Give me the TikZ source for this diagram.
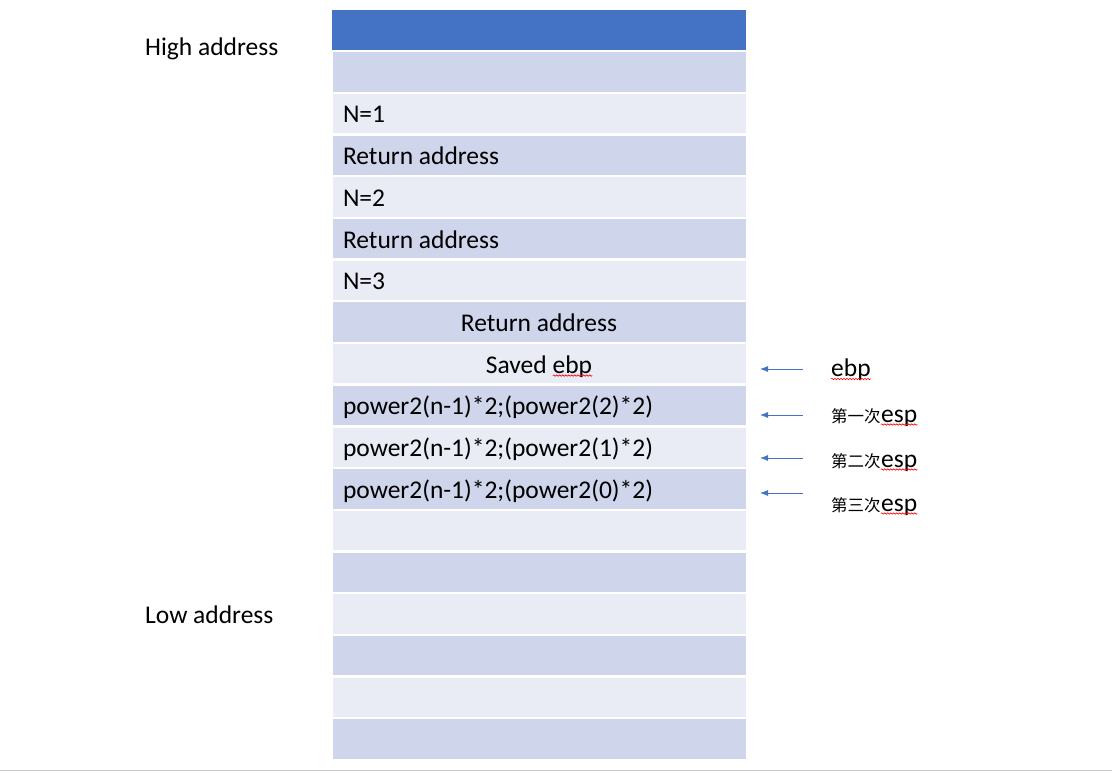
\documentclass[tikz,border=0pt]{standalone}
\usepackage{fontspec}
\setmainfont{Carlito}
\newfontfamily\cjk{Noto Sans CJK SC}
\usetikzlibrary{arrows.meta,decorations.pathmorphing}
\definecolor{hdblue}{HTML}{4472C4}
\definecolor{cell1}{HTML}{CFD5EA}
\definecolor{cell0}{HTML}{E9EBF5}
\tikzset{
  cellbox/.style={minimum width=413pt, minimum height=39.3pt, inner sep=0pt, draw=none},
  txt/.style={inner sep=0pt},
  ptr/.style={hdblue, line width=0.8pt, -{Latex[length=8pt,width=6pt]}},
  spell/.style={red, line width=0.6pt, decorate, decoration={snake, amplitude=0.7pt, segment length=3pt}},
}
\newlength\ebpw
\AtBeginDocument{\settowidth{\ebpw}{\fontsize{25.5}{30}\selectfont ebp}}

\begin{document}
\begin{tikzpicture}[x=1pt,y=-1pt,every node/.style={font=\fontsize{25.5}{30}\selectfont}]
  \useasboundingbox (0,0) rectangle (1112,772);
  % stack cells
  \foreach \i [evaluate=\i as \sh using {int(mod(\i,2))}] in {0,...,17}
    \node[cellbox, fill=cell\sh] (r\i) at (539, 30.2+41.7*\i) {};
  \fill[hdblue] (r0.south west) rectangle (r0.north east);
  % cell texts
  \foreach \i/\lbl in {2/N=1, 3/Return address, 4/N=2, 5/Return address, 6/N=3,
      9/power2(n-1)*2;(power2(2)*2), 10/power2(n-1)*2;(power2(1)*2), 11/power2(n-1)*2;(power2(0)*2)}
    \node[txt, anchor=base west] (t\i) at ([xshift=10.5pt, yshift=-9.3pt]r\i.west) {\lbl};
  \node[txt, anchor=base] (t7) at ([yshift=-9.3pt]r7.center) {Return address};
  \node[txt, anchor=base] (t8) at ([yshift=-9.3pt]r8.center) {Saved ebp};
  \draw[spell] ([xshift=-\ebpw, yshift=-2.5pt]t8.base east) -- ([yshift=-2.5pt]t8.base east);
  % side labels
  \node[txt, anchor=base west] (hi) at (145,55) {High address};
  \node[txt, anchor=base west] (lo) at (145,623) {Low address};
  \node[txt, anchor=base west] (lebp) at (831,376) {ebp};
  \draw[spell] ([yshift=-3pt]lebp.base west) -- ([yshift=-3pt]lebp.base east);
  \foreach \k/\cnum/\y in {1/一/422, 2/二/467, 3/三/511} {
    \node[txt, anchor=base west, font=\cjk\fontsize{16.5}{20}\selectfont] (c\k) at (831,\y) {第\cnum 次};
    \node[txt, anchor=base west] (e\k) at (c\k.base east) {esp};
    \draw[spell] ([yshift=-2.5pt]e\k.base west) -- ([yshift=-2.5pt]e\k.base east);
  }
  % pointers
  \foreach \k/\y in {0/369, 1/415, 2/458, 3/493} {
    \coordinate (from\k) at (803,\y);
    \coordinate (to\k) at (760,\y);
    \draw[ptr] (from\k) -- (to\k);
  }
  \draw[gray!45, line width=1.2pt] (0,770.5) -- (1112,770.5);
\end{tikzpicture}
\end{document}
